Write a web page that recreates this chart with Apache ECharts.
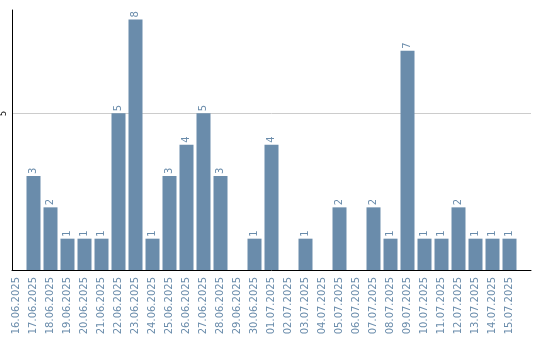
<!DOCTYPE html>
<html><head><meta charset="utf-8">
<script src="https://cdn.jsdelivr.net/npm/echarts@6/dist/echarts.min.js"></script>
<style>html,body{margin:0;padding:0;background:#fff}#c{width:540px;height:340px}</style>
</head><body><div id="c"></div>
<script>
var categories = ["16.06.2025","17.06.2025","18.06.2025","19.06.2025","20.06.2025","21.06.2025","22.06.2025","23.06.2025","24.06.2025","25.06.2025","26.06.2025","27.06.2025","28.06.2025","29.06.2025","30.06.2025","01.07.2025","02.07.2025","03.07.2025","04.07.2025","05.07.2025","06.07.2025","07.07.2025","08.07.2025","09.07.2025","10.07.2025","11.07.2025","12.07.2025","13.07.2025","14.07.2025","15.07.2025"];
var values = [0,3,2,1,1,1,5,8,1,3,4,5,3,0,1,4,0,1,0,2,0,2,1,7,1,1,2,1,1,1];
var yTicks = [5];

var barColor = '#6a8cab';
var chart = echarts.init(document.getElementById('c'));
chart.setOption({
  animation: false,
  grid: [
    {left: 10, right: 9, top: 10, bottom: 70},
    {left: 8, width: 510, top: 10, bottom: 70}
  ],
  xAxis: [
    {gridIndex: 0, type: 'value', min: 0, max: 1, axisLine: {show: true, lineStyle: {color: '#000', width: 1}}, axisTick: {show: false}, axisLabel: {show: false}, splitLine: {show: false}},
    {gridIndex: 1, type: 'category', data: categories, axisLine: {show: false}, axisTick: {show: false},
     axisLabel: {rotate: 90, interval: 0, margin: 7, color: barColor, fontFamily: 'DejaVu Sans', fontSize: 10}}
  ],
  yAxis: [
    {gridIndex: 0, type: 'value', min: 0, max: 8.3, interval: 5,
     axisLine: {show: true, lineStyle: {color: '#000', width: 1}}, axisTick: {show: false},
     axisLabel: {rotate: 90, margin: 4, color: '#000', fontFamily: 'DejaVu Sans', fontSize: 8,
       formatter: function(v){ return yTicks.indexOf(v) >= 0 ? String(v) : ''; }},
     splitLine: {show: true, showMinLine: false, showMaxLine: false, lineStyle: {color: '#cccccc', width: 1}}},
    {gridIndex: 1, type: 'value', min: 0, max: 8.3, show: false}
  ],
  series: [{
    type: 'bar', xAxisIndex: 1, yAxisIndex: 1, data: values, barWidth: 14,
    itemStyle: {color: barColor},
    label: {show: true, position: 'top', rotate: 90, align: 'left', verticalAlign: 'middle', distance: 2,
      color: barColor, fontFamily: 'DejaVu Sans', fontSize: 10,
      formatter: function(p){ return p.value ? String(p.value) : ''; }}
  }]
});
</script></body></html>
